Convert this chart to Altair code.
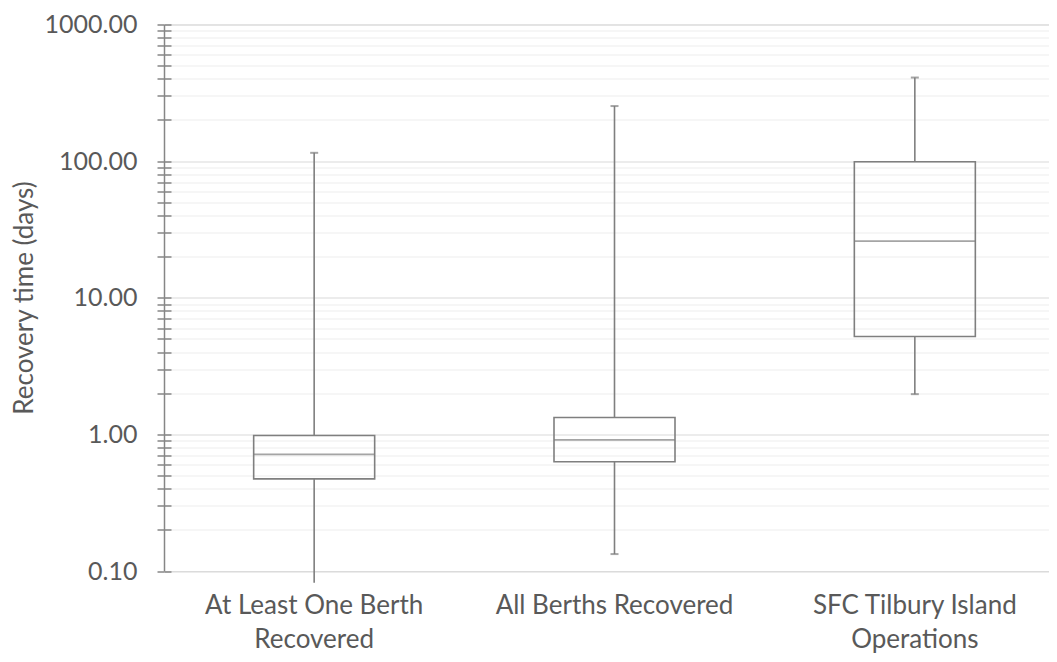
import altair as alt
import pandas as pd

# ---- data ----
categories = ["At Least One Berth\nRecovered", "All Berths Recovered", "SFC Tilbury Island\nOperations"]
whisker_low = [0.082, 0.133, 1.97]
q1 = [0.472, 0.63, 5.2]
median = [0.715, 0.91, 26.0]
q3 = [0.98, 1.33, 99.0]
whisker_high = [115.0, 253.0, 409.0]

# log-axis tick values (decades x multipliers)
decades = [0.1, 1, 10, 100]
multipliers = [1, 2, 3, 4, 5, 6, 7, 8, 9]
tick_values = [round(d * m, 6) for d in decades for m in multipliers] + [1000]

df = pd.DataFrame({
    "category": categories,
    "lo": whisker_low,
    "q1": q1,
    "med": median,
    "q3": q3,
    "hi": whisker_high,
})

GREY = "#7f7f7f"
AXIS = "#868686"
TEXT = "#595959"
FONT = "Lato"

is_major = "abs(log(datum.value)/LN10 - round(log(datum.value)/LN10)) < 0.001"

yscale = alt.Scale(type="log", domain=[0.1, 1000], nice=False)

yaxis = alt.Axis(
    values=tick_values,
    labelExpr=f"({is_major}) ? format(datum.value, '.2f') : ''",
    title="Recovery time (days)",
    titleFont=FONT, titleFontSize=26, titleFontWeight="normal", titleColor=TEXT,
    titleX=-132, titleY=273, titleAngle=270, titleBaseline="alphabetic", titleAlign="center",
    labelFont=FONT, labelFontSize=25, labelColor=TEXT, labelPadding=20,
    tickSize=7, tickColor=AXIS, tickWidth=1.5,
    domainColor=AXIS, domainWidth=1.5,
    grid=True,
    gridColor={"condition": {"test": is_major, "value": "#d9d9d9"}, "value": "#ededed"},
    gridWidth=1,
    labelOverlap=False,
)

xenc = alt.X(
    "category:N",
    sort=categories,
    scale=alt.Scale(range=[0, 901], paddingInner=0, paddingOuter=0),
    axis=alt.Axis(
        labelExpr="split(datum.label, '\\n')",
        labelAngle=0, ticks=False, tickSize=0, domain=False, grid=False, title=None,
        labelFont=FONT, labelFontSize=26, labelColor=TEXT, labelPadding=21,
        labelBaseline="top", labelLineHeight=34, labelAlign="center", labelLimit=500,
    ),
)

base = alt.Chart(df)

upper = base.mark_rule(color=GREY, strokeWidth=1.6).encode(
    x=xenc, y=alt.Y("q3:Q", scale=yscale, axis=yaxis), y2="hi:Q"
)
lower = base.mark_rule(color=GREY, strokeWidth=1.6, clip=False).encode(
    x=xenc, y=alt.Y("lo:Q", scale=yscale, axis=yaxis), y2="q1:Q"
)
box = base.mark_bar(fill=None, stroke=GREY, strokeWidth=1.6, size=121).encode(
    x=xenc, y=alt.Y("q1:Q", scale=yscale, axis=yaxis), y2="q3:Q"
)
med = base.mark_tick(color=GREY, size=121, thickness=1.8).encode(
    x=xenc, y=alt.Y("med:Q", scale=yscale, axis=yaxis)
)
cap_hi = base.mark_tick(color=GREY, size=8, thickness=2).encode(
    x=xenc, y=alt.Y("hi:Q", scale=yscale, axis=yaxis)
)
cap_lo = base.transform_filter("datum.lo >= 0.1").mark_tick(color=GREY, size=8, thickness=2).encode(
    x=xenc, y=alt.Y("lo:Q", scale=yscale, axis=yaxis)
)

main = alt.layer(upper, lower, box, med, cap_hi, cap_lo)

# inward half of the crossing ticks
inner_ticks = base.mark_point(opacity=0).encode(
    y=alt.Y("med:Q", scale=yscale, axis=alt.Axis(
        orient="left", values=tick_values, offset=-7, tickSize=7, tickColor=AXIS, tickWidth=1.5,
        labels=False, domain=False, grid=False, title=None,
    ))
)

chart = alt.layer(main, inner_ticks).resolve_axis(y="independent").properties(
    width=885,
    height=546.5,
    autosize=alt.AutoSizeParams(type="none"),
    padding={"left": 156, "top": 16.5, "right": 0, "bottom": 83},
).configure_view(stroke=None).configure(background="white")

chart.save("out.html", embed_options={"renderer": "svg", "actions": False})
